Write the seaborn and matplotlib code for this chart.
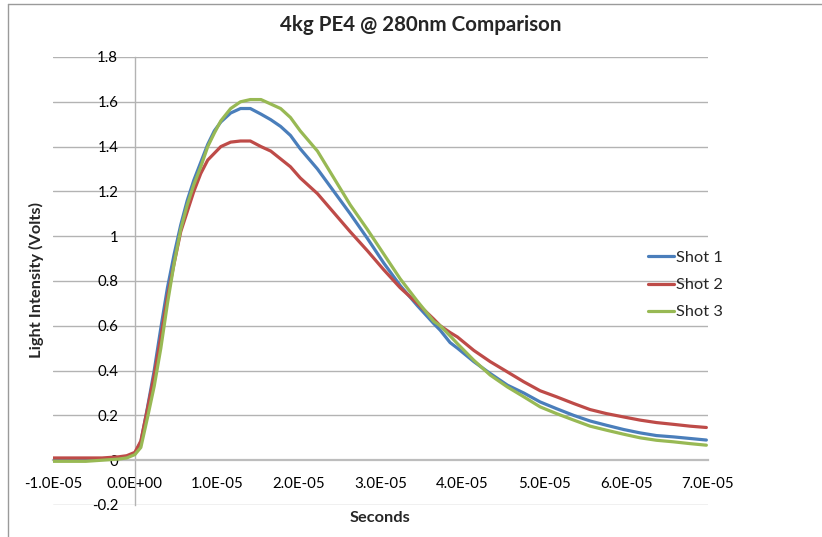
import matplotlib
matplotlib.use("Agg")
import matplotlib.pyplot as plt
from matplotlib.lines import Line2D
import seaborn as sns
import pandas as pd
import numpy as np

# time in microseconds (converted to seconds below)
time_us = [-10, -8, -6, -4, -2, -1, 0, 0.73, 1.54, 2.36, 3.17, 3.98, 4.8, 5.6, 6.4, 7.2,
           8.05, 8.9, 9.7, 10.5, 11.7, 12.9, 14.1, 15.4, 16.6, 17.8, 19.0, 20.2, 22.3,
           24.3, 26.3, 28.4, 30.4, 32.4, 34.5, 36.5, 37.3, 38.5, 39.4, 41.4, 43.4, 45.5,
           47.5, 49.5, 51.5, 53.6, 55.6, 57.6, 59.7, 61.7, 63.7, 65.8, 67.8, 69.8]

shot1 = [0.0, 0.0, 0.0, 0.005, 0.01, 0.015, 0.03, 0.08, 0.235, 0.40, 0.59, 0.77, 0.92, 1.05,
         1.16, 1.25, 1.33, 1.41, 1.47, 1.51, 1.55, 1.57, 1.57, 1.545, 1.52, 1.49, 1.45, 1.39,
         1.30, 1.20, 1.10, 0.99, 0.88, 0.78, 0.69, 0.61, 0.58, 0.525, 0.50, 0.44, 0.387, 0.335,
         0.30, 0.26, 0.23, 0.20, 0.175, 0.156, 0.137, 0.122, 0.11, 0.104, 0.097, 0.09]

shot2 = [0.01, 0.01, 0.01, 0.01, 0.015, 0.02, 0.035, 0.086, 0.23, 0.38, 0.55, 0.73, 0.88, 1.02,
         1.11, 1.20, 1.28, 1.34, 1.37, 1.40, 1.42, 1.425, 1.425, 1.40, 1.38, 1.345, 1.31, 1.26,
         1.19, 1.105, 1.02, 0.935, 0.85, 0.77, 0.70, 0.63, 0.60, 0.57, 0.55, 0.49, 0.44, 0.394,
         0.35, 0.31, 0.283, 0.253, 0.226, 0.208, 0.193, 0.179, 0.168, 0.16, 0.152, 0.146]

shot3 = [-0.005, -0.005, -0.005, 0.0, 0.005, 0.01, 0.025, 0.057, 0.19, 0.33, 0.50, 0.70, 0.88,
         1.03, 1.14, 1.23, 1.31, 1.40, 1.46, 1.515, 1.57, 1.60, 1.61, 1.61, 1.59, 1.57, 1.53,
         1.47, 1.38, 1.26, 1.14, 1.03, 0.92, 0.81, 0.71, 0.62, 0.60, 0.555, 0.52, 0.446, 0.38,
         0.327, 0.283, 0.238, 0.208, 0.179, 0.152, 0.134, 0.116, 0.10, 0.089, 0.082, 0.074, 0.067]

series_names = ["Shot 1", "Shot 2", "Shot 3"]
colors = ["#4A7EBB", "#BE4B48", "#98B954"]

x_ticks = [-1e-5, 0, 1e-5, 2e-5, 3e-5, 4e-5, 5e-5, 6e-5, 7e-5]
x_tick_labels = ["-1.0E-05", "0.0E+00", "1.0E-05", "2.0E-05", "3.0E-05",
                 "4.0E-05", "5.0E-05", "6.0E-05", "7.0E-05"]
y_ticks = [-0.2, 0, 0.2, 0.4, 0.6, 0.8, 1.0, 1.2, 1.4, 1.6, 1.8]
y_tick_labels = ["-0.2", "0", "0.2", "0.4", "0.6", "0.8", "1", "1.2", "1.4", "1.6", "1.8"]

rows = []
for name, vals in zip(series_names, [shot1, shot2, shot3]):
    for t, v in zip(time_us, vals):
        rows.append({"t": t * 1e-6, "v": v, "series": name})
df = pd.DataFrame(rows)

sns.set_style("white")
plt.rcParams['font.family'] = ['Lato', 'DejaVu Sans']

fig = plt.figure(figsize=(8.22, 5.37), dpi=100)
ax = fig.add_axes([53 / 822, 1 - 505 / 537, (708 - 53) / 822, (505 - 57) / 537])

grid_color = "#B3B3B3"
for yv in y_ticks:
    if yv != 0:
        ax.axhline(yv, color=grid_color, lw=1.0, zorder=0)

sns.lineplot(data=df, x="t", y="v", hue="series", palette=colors, ax=ax,
             lw=2.3, legend=False, sort=False, estimator=None)

ax.set_xlim(-1e-5, 7e-5)
ax.set_ylim(-0.2, 1.8)

for s in ["top", "right"]:
    ax.spines[s].set_visible(False)
ax.spines["left"].set_position(("data", 0))
ax.spines["bottom"].set_position(("data", 0))
ax.spines["left"].set_color(grid_color)
ax.spines["left"].set_linewidth(1.0)
ax.spines["bottom"].set_color("#BDBDBD")
ax.spines["bottom"].set_linewidth(1.6)
ax.spines["left"].set_zorder(0.5)
ax.spines["bottom"].set_zorder(0.5)

ax.set_xticks(x_ticks)
ax.set_xticklabels(x_tick_labels)
ax.set_yticks(y_ticks)
ax.set_yticklabels(y_tick_labels)
ax.tick_params(axis="x", length=0, pad=12, labelsize=10.8, colors="#000000")
ax.tick_params(axis="y", length=0, pad=12, labelsize=10.8, colors="#000000")

ax.set_xlabel("")
ax.set_ylabel("")
fig.text(380 / 822, 1 - 518 / 537, "Seconds", ha="center", va="center",
         fontsize=11.8, fontweight="bold")
fig.text(36 / 822, 1 - 280 / 537, "Light Intensity (Volts)", ha="center", va="center",
         rotation=90, fontsize=11.8, fontweight="bold")
fig.text(421 / 822, 1 - 25 / 537, "4kg PE4 @ 280nm Comparison", ha="center", va="center",
         fontsize=14.8, fontweight="bold")

handles = [Line2D([0], [0], color=c, lw=2.3) for c in colors]
leg = fig.legend(handles, series_names, loc="center left",
                 bbox_to_anchor=(633 / 822, 1 - 285 / 537), frameon=False,
                 fontsize=11.8, handlelength=1.6, handletextpad=0.1, labelspacing=0.78)

# outer chart border (top and left visible)
fig.add_artist(Line2D([8 / 822, 1.0], [1 - 4 / 537, 1 - 4 / 537], color="#9A9A9A", lw=1.0,
                      transform=fig.transFigure))
fig.add_artist(Line2D([8 / 822, 8 / 822], [0.0, 1 - 4 / 537], color="#9A9A9A", lw=1.0,
                      transform=fig.transFigure))

fig.savefig("out.png", dpi=100)
